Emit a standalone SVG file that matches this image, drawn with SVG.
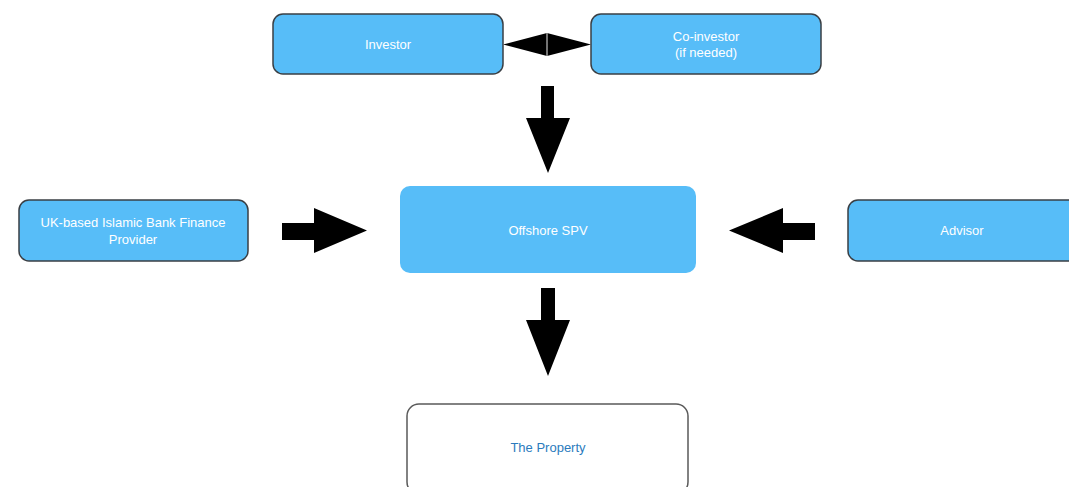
<svg xmlns="http://www.w3.org/2000/svg" width="1069" height="487" viewBox="0 0 1069 487">
  <style>
    .box { fill: #57bdf8; stroke: #3a3f44; stroke-width: 1.5; }
    .hub { fill: #57bdf8; stroke: none; }
    .plain { fill: #ffffff; stroke: #5a5a5a; stroke-width: 1.5; }
    .lbl { font-family: "Liberation Sans", Arial, sans-serif; font-size: 13px; fill: #ffffff; text-anchor: middle; dominant-baseline: central; }
    .lbl-dark { font-family: "Liberation Sans", Arial, sans-serif; font-size: 13px; fill: #2b7bbd; text-anchor: middle; dominant-baseline: central; }
    .arrow { fill: #000000; }
    .divider { stroke: #9a9a9a; stroke-width: 1.5; }
  </style>
  <rect width="1069" height="487" fill="#ffffff"/>

  <!-- connectors: block arrows -->
  <g id="connectors">
    <!-- Investor <-> Co-investor -->
    <polygon class="arrow" points="503,44.5 547,33 547,56"/>
    <polygon class="arrow" points="591,44.5 547,33 547,56"/>
    <line class="divider" x1="547" y1="33" x2="547" y2="56"/>
    <!-- Investors -> Offshore SPV -->
    <polygon class="arrow" points="541,86 554,86 554,118 570,118 548,173 526,118 541,118"/>
    <!-- Finance provider -> Offshore SPV -->
    <polygon class="arrow" points="282,223 314,223 314,208 367,230.5 314,253 314,240 282,240"/>
    <!-- Advisor -> Offshore SPV -->
    <polygon class="arrow" points="815,223 783,223 783,208 729,230.5 783,253 783,240 815,240"/>
    <!-- Offshore SPV -> The Property -->
    <polygon class="arrow" points="541,288 555,288 555,320 570,320 548,376 526,320 541,320"/>
  </g>

  <g id="investor">
    <rect class="box" x="273" y="14" width="230" height="60" rx="10"/>
    <text class="lbl" x="388" y="44">Investor</text>
  </g>

  <g id="co-investor">
    <rect class="box" x="591" y="14" width="230" height="60" rx="10"/>
    <text class="lbl" x="706" y="36">Co-investor</text>
    <text class="lbl" x="706" y="52">(if needed)</text>
  </g>

  <g id="finance-provider">
    <rect class="box" x="19" y="200" width="229" height="61" rx="10"/>
    <text class="lbl" x="133" y="222">UK-based Islamic Bank Finance</text>
    <text class="lbl" x="133" y="239">Provider</text>
  </g>

  <g id="offshore-spv">
    <rect class="hub" x="400" y="186" width="296" height="87" rx="10"/>
    <text class="lbl" x="548" y="230">Offshore SPV</text>
  </g>

  <g id="advisor">
    <rect class="box" x="848" y="200" width="230" height="61" rx="10"/>
    <text class="lbl" x="962" y="230">Advisor</text>
  </g>

  <g id="property">
    <rect class="plain" x="407" y="404" width="281" height="90" rx="12"/>
    <text class="lbl-dark" x="548" y="447">The Property</text>
  </g>
</svg>
